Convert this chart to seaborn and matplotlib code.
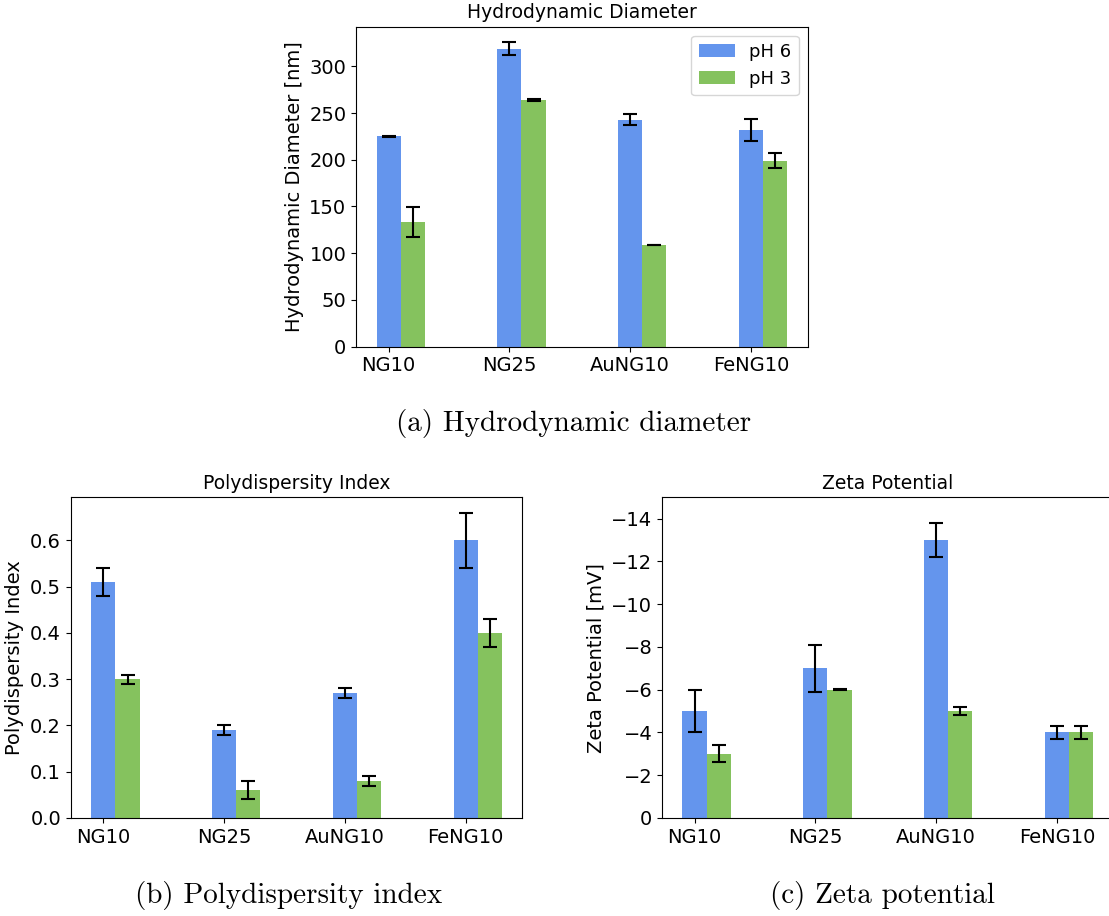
import matplotlib
matplotlib.use("Agg")
import matplotlib.pyplot as plt
import seaborn as sns
import numpy as np

# Data
samples = ["NG10", "NG25", "AuNG10", "FeNG10"]
series_labels = ["pH 6", "pH 3"]

diam_ph6 = [225, 319, 243, 232]
diam_ph6_err = [0.5, 7, 6, 12]
diam_ph3 = [133, 264, 109, 199]
diam_ph3_err = [16, 1, 0.3, 8]

pdi_ph6 = [0.51, 0.19, 0.27, 0.60]
pdi_ph6_err = [0.03, 0.01, 0.01, 0.06]
pdi_ph3 = [0.30, 0.06, 0.08, 0.40]
pdi_ph3_err = [0.01, 0.02, 0.01, 0.03]

zeta_ph6 = [-5.0, -7.0, -13.0, -4.0]
zeta_ph6_err = [1.0, 1.1, 0.8, 0.3]
zeta_ph3 = [-3.0, -6.0, -5.0, -4.0]
zeta_ph3_err = [0.4, 0.02, 0.2, 0.3]

blue = "#6495ed"
green = "#85c25e"

plt.rcParams["font.size"] = 13

fig = plt.figure(figsize=(11.09, 9.16), dpi=100)

ax_a = fig.add_axes([0.3210, 0.6215, 0.4073, 0.3493])
ax_b = fig.add_axes([0.0638, 0.1070, 0.4073, 0.3501])
ax_c = fig.add_axes([0.5969, 0.1070, 0.4073, 0.3501])

pos = np.arange(len(samples))
bar_w = 0.2


def draw_panel(ax, v6, e6, v3, e3, title, ylabel):
    sns.barplot(x=pos, y=v6, native_scale=True, width=bar_w, color=blue,
                saturation=1, errorbar=None, label=series_labels[0], ax=ax)
    sns.barplot(x=pos + bar_w, y=v3, native_scale=True, width=bar_w, color=green,
                saturation=1, errorbar=None, label=series_labels[1], ax=ax)
    ax.errorbar(pos, v6, yerr=e6, fmt="none", ecolor="black", capsize=5, elinewidth=1.5, capthick=1.5)
    ax.errorbar(pos + bar_w, v3, yerr=e3, fmt="none", ecolor="black", capsize=5, elinewidth=1.5, capthick=1.5)
    ax.set_xticks(pos)
    ax.set_xticklabels(samples, fontsize=14)
    ax.tick_params(axis="y", labelsize=14)
    ax.set_title(title, fontsize=13.5)
    ax.set_ylabel(ylabel, fontsize=14)
    ax.set_xlabel("")
    ax.margins(x=0.05)


draw_panel(ax_a, diam_ph6, diam_ph6_err, diam_ph3, diam_ph3_err,
           "Hydrodynamic Diameter", "Hydrodynamic Diameter [nm]")
ax_a.legend(loc="upper right", fontsize=13)

draw_panel(ax_b, pdi_ph6, pdi_ph6_err, pdi_ph3, pdi_ph3_err,
           "Polydispersity Index", "Polydispersity Index")
if ax_b.get_legend() is not None:
    ax_b.get_legend().remove()

draw_panel(ax_c, zeta_ph6, zeta_ph6_err, zeta_ph3, zeta_ph3_err,
           "Zeta Potential", "Zeta Potential [mV]")
ax_c.set_ylim(0, -15)
if ax_c.get_legend() is not None:
    ax_c.get_legend().remove()

# Captions
cap_font = dict(family="cmr10", fontsize=21, ha="center", va="center")
fig.text(574 / 1109, 1 - 423 / 916, "(a) Hydrodynamic diameter", **cap_font)
fig.text(289 / 1109, 1 - 895 / 916, "(b) Polydispersity index", **cap_font)
fig.text(882 / 1109, 1 - 895 / 916, "(c) Zeta potential", **cap_font)

fig.savefig("out.png", dpi=100)
